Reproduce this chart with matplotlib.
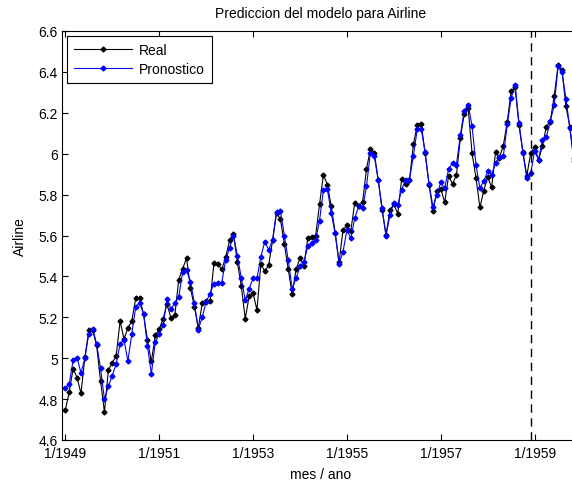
import matplotlib
matplotlib.use("Agg")
import matplotlib.pyplot as plt
import numpy as np

plt.rcParams['font.family'] = ['Liberation Sans', 'DejaVu Sans']

title = "Prediccion del modelo para Airline"
xlabel = "mes / ano"
ylabel = "Airline"
tick_labels = ["1/1949", "1/1951", "1/1953", "1/1955", "1/1957", "1/1959"]
tick_months = [0, 24, 48, 72, 96, 120]
split_month = 119

real = [
    4.745, 4.836, 4.949, 4.905, 4.828, 5.004, 5.136, 5.136, 5.063, 4.890, 4.736, 4.942,
    4.977, 5.011, 5.182, 5.094, 5.147, 5.182, 5.293, 5.293, 5.215, 5.088, 4.984, 5.112,
    5.142, 5.193, 5.263, 5.198, 5.209, 5.384, 5.438, 5.489, 5.342, 5.252, 5.147, 5.268,
    5.278, 5.278, 5.464, 5.460, 5.434, 5.493, 5.576, 5.606, 5.468, 5.352, 5.193, 5.303,
    5.318, 5.236, 5.460, 5.425, 5.455, 5.576, 5.710, 5.680, 5.557, 5.434, 5.313, 5.434,
    5.489, 5.451, 5.587, 5.595, 5.598, 5.753, 5.897, 5.849, 5.743, 5.613, 5.468, 5.628,
    5.649, 5.624, 5.759, 5.746, 5.762, 5.924, 6.023, 6.004, 5.872, 5.724, 5.602, 5.724,
    5.753, 5.707, 5.875, 5.852, 5.872, 6.045, 6.142, 6.146, 6.001, 5.849, 5.720, 5.817,
    5.829, 5.762, 5.892, 5.852, 5.894, 6.075, 6.196, 6.225, 6.001, 5.883, 5.737, 5.820,
    5.886, 5.835, 6.006, 5.981, 6.040, 6.157, 6.306, 6.326, 6.138, 6.009, 5.892, 6.004,
    6.033, 5.969, 6.038, 6.133, 6.157, 6.282, 6.433, 6.407, 6.231, 6.133, 5.966, 6.068,
]

pronostico = [
    4.852, 4.874, 4.992, 5.002, 4.928, 5.000, 5.120, 5.144, 5.070, 4.950, 4.800, 4.862,
    4.915, 4.972, 5.070, 5.090, 4.985, 5.120, 5.250, 5.270, 5.218, 5.060, 4.923, 5.078,
    5.120, 5.160, 5.290, 5.240, 5.270, 5.300, 5.422, 5.430, 5.373, 5.270, 5.140, 5.200,
    5.275, 5.316, 5.365, 5.370, 5.370, 5.480, 5.540, 5.600, 5.500, 5.390, 5.283, 5.340,
    5.390, 5.390, 5.496, 5.570, 5.530, 5.578, 5.717, 5.720, 5.600, 5.480, 5.340, 5.390,
    5.450, 5.470, 5.548, 5.565, 5.578, 5.673, 5.824, 5.827, 5.709, 5.610, 5.463, 5.520,
    5.627, 5.586, 5.684, 5.745, 5.733, 5.840, 6.004, 5.987, 5.873, 5.733, 5.600, 5.700,
    5.761, 5.750, 5.824, 5.873, 5.873, 5.990, 6.122, 6.122, 6.007, 5.853, 5.740, 5.800,
    5.860, 5.832, 5.925, 5.955, 5.946, 6.090, 6.210, 6.240, 6.135, 5.946, 5.832, 5.865,
    5.914, 5.897, 5.955, 5.984, 5.990, 6.143, 6.274, 6.335, 6.151, 6.004, 5.881, 5.906,
    6.012, 5.971, 6.069, 6.083, 6.159, 6.236, 6.427, 6.400, 6.269, 6.127, 5.980, 6.060,
]

W, H = 572, 485
fig = plt.figure(figsize=(W / 100, H / 100), dpi=100)
left, right, top, bottom = 62, 580, 32, 441
ax = fig.add_axes([left / W, 1 - bottom / H, (right - left) / W, (bottom - top) / H])

x = np.arange(len(real))
ax.plot(x, real, color='black', lw=0.8, marker='D', ms=2.5, label='Real')
ax.plot(x, pronostico, color='blue', lw=0.8, marker='D', ms=2.5, label='Pronostico')
ax.axvline(split_month, color='black', lw=1.0, ls=(0, (6, 4)))

ax.set_xlim(-0.85, 131.6)
ax.set_ylim(4.6, 6.6)
ax.set_xticks(tick_months)
ax.set_xticklabels(tick_labels)
yt = np.round(np.arange(4.6, 6.61, 0.2), 1)
ax.set_yticks(yt)
ax.set_yticklabels([('%g' % v) for v in yt])
ax.tick_params(direction='in', top=True, right=True, length=4, width=0.8, labelsize=10, pad=3)
ax.tick_params(axis='x', pad=4.5)
for s in ax.spines.values():
    s.set_linewidth(0.8)

ax.set_title(title, fontsize=10, pad=10)
ax.set_xlabel(xlabel, fontsize=10, labelpad=5)
ax.set_ylabel(ylabel, fontsize=10, labelpad=8)

leg = ax.legend(loc='upper left', fontsize=10, fancybox=False, edgecolor='black',
                framealpha=1, borderaxespad=0.35, handlelength=4.2, borderpad=0.5,
                labelspacing=0.35, handletextpad=0.5)
leg.get_frame().set_linewidth(0.8)

fig.savefig('out.png', dpi=100)
